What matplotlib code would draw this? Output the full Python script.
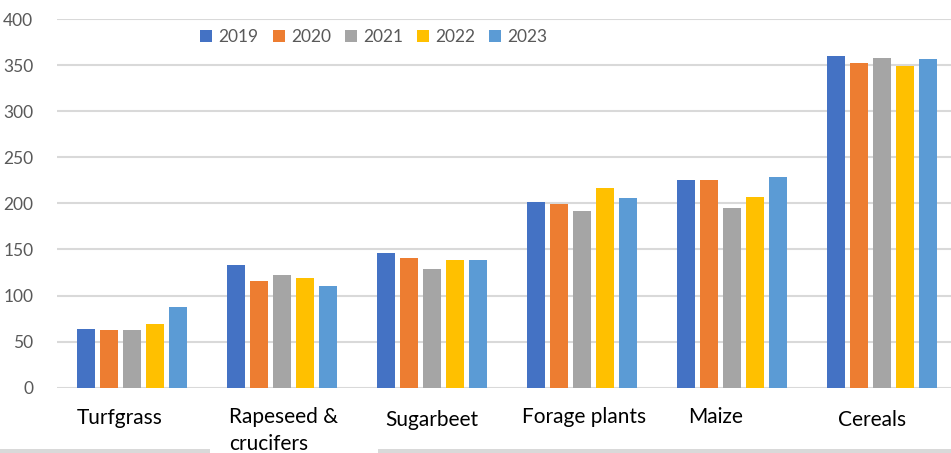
import matplotlib.pyplot as plt
import matplotlib.patches as mpatches
import numpy as np

plt.rcParams['font.family'] = ['Lato', 'DejaVu Sans']

# --- data ---
categories = ["Turfgrass", "Rapeseed &\ncrucifers", "Sugarbeet", "Forage plants", "Maize", "Cereals"]
years = ["2019", "2020", "2021", "2022", "2023"]
v2019 = [64, 133, 146, 201, 225, 360]
v2020 = [63, 116, 141, 199, 225, 352]
v2021 = [63, 122, 129, 192, 195, 358]
v2022 = [69, 119, 138, 217, 207, 349]
v2023 = [88, 110, 139, 206, 229, 357]
series = [v2019, v2020, v2021, v2022, v2023]
colors = ["#4472C4", "#ED7D31", "#A5A5A5", "#FFC000", "#5B9BD5"]

W, H = 951, 453
fig = plt.figure(figsize=(W / 100, H / 100), dpi=100)
ax = fig.add_axes([57 / W, 65.3 / H, 900 / W, 368.7 / H])

x = np.arange(len(categories))
step = 0.153
bw = 0.122
for i, (vals, c, yr) in enumerate(zip(series, colors, years)):
    ax.bar(x + (i - 2) * step, vals, width=bw, color=c, label=yr, zorder=3)

ax.set_xlim(-0.5, len(categories) - 0.5)
ax.set_ylim(0, 400)
ax.set_yticks(range(0, 401, 50))
ax.yaxis.grid(True, color="#d9d9d9", linewidth=1.5, zorder=0)
ax.set_axisbelow(True)
for s in ax.spines.values():
    s.set_visible(False)
ax.tick_params(axis="y", length=0, pad=17, labelsize=12.5, labelcolor="#595959")
ax.set_xticks([])

# category labels, placed as in the reference (not centred on groups)
label_pos = [(77, 418), (229, 418), (385, 420), (522, 417), (688, 417), (838, 420)]
for name, (px, py) in zip(categories, label_pos):
    t = fig.text(px / W, 1 - py / H, name, ha="left", va="center", fontsize=15,
                 color="black", linespacing=1.45, zorder=5)
    if "\n" in name:
        t.set_va("top")
        t.set_y(1 - 407 / H)

# thin gray band along the bottom edge, broken where the label box sits
for x0, x1 in [(0, 210), (378, W)]:
    fig.patches.append(mpatches.Rectangle((x0 / W, 0), (x1 - x0) / W, 4 / H,
                                          transform=fig.transFigure,
                                          facecolor="#d9d9d9", edgecolor="none", zorder=1))

ax.legend(loc="center", bbox_to_anchor=(0.352, 0.951), ncol=5, frameon=False,
          fontsize=12.5, labelcolor="#595959", handlelength=0.7, handleheight=0.7,
          handletextpad=0.35, columnspacing=0.8)

fig.savefig("out.png", dpi=100)
